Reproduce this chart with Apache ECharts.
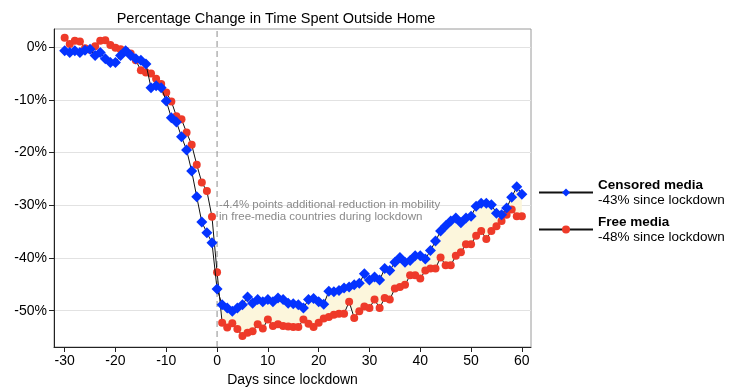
<!DOCTYPE html>
<html><head><meta charset="utf-8">
<script src="https://cdn.jsdelivr.net/npm/echarts@6/dist/echarts.min.js"></script>
<style>html,body{margin:0;padding:0;background:#fff}#c{width:733px;height:392px}</style>
</head><body><div id="c"></div>
<script>
const days = [-30,-29,-28,-27,-26,-25,-24,-23,-22,-21,-20,-19,-18,-17,-16,-15,-14,-13,-12,-11,-10,-9,-8,-7,-6,-5,-4,-3,-2,-1,
  0,1,2,3,4,5,6,7,8,9,10,11,12,13,14,15,16,17,18,19,20,21,22,23,24,25,26,27,28,29,30,
  31,32,33,34,35,36,37,38,39,40,41,42,43,44,45,46,47,48,49,50,51,52,53,54,55,56,57,58,59,60];
const censored = [-0.7,-1.0,-0.7,-1.0,-0.6,-0.4,-1.6,-1.0,-2.2,-2.9,-2.9,-1.6,-0.7,-1.6,-2.2,-2.5,-3.2,
  -7.7,-7.3,-7.7,-10.2,-13.4,-14.2,-17.0,-19.5,-23.5,-28.4,-33.2,-35.2,-37.1,
  -45.9,
  -48.9,-49.5,-50.1,-49.5,-48.9,-47.4,-48.6,-47.9,-48.3,-47.9,-48.3,-47.6,-47.9,-48.6,
  -48.7,-48.9,-49.5,-47.9,-47.7,-48.3,-48.8,-46.3,-46.4,-46.2,-45.7,-45.5,-45.1,-44.8,-43.0,-44.2,
  -43.6,-44.2,-42.0,-42.4,-40.8,-39.9,-40.8,-40.5,-39.6,-39.6,-40.2,-38.6,-36.8,-34.9,-33.9,-33.0,-32.4,-33.3,-32.4,-32.1,
  -30.2,-29.6,-29.6,-29.9,-31.5,-31.8,-30.5,-28.5,-26.5,-27.9];
const free = [1.8,0.6,1.2,1.1,-0.2,-0.5,0.2,1.2,1.3,0.4,-0.1,-0.4,-0.7,-1.2,-2.5,-4.4,-4.8,
  -5.0,-6.0,-7.0,-8.6,-10.3,-13.1,-13.7,-16.2,-18.5,-22.3,-25.7,-27.3,-32.2,
  -42.7,
  -52.3,-53.2,-52.4,-53.5,-54.8,-54.2,-53.9,-52.6,-53.4,-51.7,-52.9,-52.6,-52.9,-53.0,
  -53.1,-53.1,-51.7,-52.5,-53.1,-52.3,-51.5,-51.2,-50.8,-50.6,-50.6,-48.3,-51.4,-50.1,-49.2,-49.5,
  -47.9,-49.5,-47.6,-47.9,-45.8,-45.5,-45.1,-43.3,-43.3,-43.9,-42.4,-42.0,-42.0,-39.9,-41.4,-41.4,-39.6,-38.9,-37.4,-37.4,
  -35.8,-34.9,-36.4,-34.9,-34.0,-33.0,-31.8,-30.8,-32.1,-32.1];
const seriesNames = ['Censored media', 'Free media'];
const seriesNotes = ['-43% since lockdown', '-48% since lockdown'];
const xTicks = [-30,-20,-10,0,10,20,30,40,50,60];
const yTicks = [0,-10,-20,-30,-40,-50];
const lockdownDay = 0;
const annotationLines = ['-4.4% points additional reduction in mobility', 'in free-media countries during lockdown'];
const annotationAnchor = [0, -28.8];
const titleText = 'Percentage Change in Time Spent Outside Home';
const xName = 'Days since lockdown';

const FONT = '"Liberation Sans", Arial, Helvetica, sans-serif';
const X_MIN = -32.1, X_MAX = 61.8, Y_MIN = -56.9, Y_MAX = 3.45;
const chart = echarts.init(document.getElementById('c'), null, {renderer: 'canvas'});
const pts = arr => days.map((d, i) => [d, arr[i]]);
const bandIdx = days.map((d, i) => i).filter(i => days[i] >= lockdownDay);

const option = {
  animation: false,
  title: {text: titleText, left: 271, top: 6, textAlign: 'center',
    textStyle: {fontFamily: FONT, fontSize: 14.5, fontWeight: 'normal', color: '#000'}},
  grid: {left: 54, right: 202, top: 29, bottom: 39, show: true, borderColor: '#9a9a9a', borderWidth: 1},
  xAxis: {type: 'value', min: X_MIN, max: X_MAX, splitNumber: 9,
    name: xName, nameLocation: 'middle', nameGap: 26,
    nameTextStyle: {fontFamily: FONT, fontSize: 14, color: '#000'},
    axisLine: {show: true, onZero: false, lineStyle: {color: '#222', width: 1}},
    axisTick: {show: true, length: 5, lineStyle: {color: '#222'}, customValues: xTicks},
    axisLabel: {fontFamily: FONT, fontSize: 14, color: '#000', margin: 7, customValues: xTicks,
      formatter: v => (xTicks.indexOf(v) >= 0 ? String(v) : '')},
    splitLine: {show: false}},
  yAxis: {type: 'value', min: Y_MIN, max: Y_MAX, splitNumber: 6,
    axisLine: {show: true, onZero: false, lineStyle: {color: '#222', width: 1}},
    axisTick: {show: true, length: 5, lineStyle: {color: '#222'}, customValues: yTicks},
    axisLabel: {fontFamily: FONT, fontSize: 14, color: '#000', margin: 7, customValues: yTicks,
      formatter: v => (yTicks.indexOf(v) >= 0 ? v + '%' : '')},
    splitLine: {show: true, lineStyle: {color: '#e2e2e2', width: 1}}},
  legend: {orient: 'vertical', left: 533, top: 173, itemWidth: 54, itemHeight: 10, itemGap: 8,
    data: seriesNames,
    formatter: name => '{b|' + name + '}\n{n|' + seriesNotes[seriesNames.indexOf(name)] + '}',
    textStyle: {rich: {
      b: {fontFamily: FONT, fontSize: 13.5, fontWeight: 'bold', color: '#000', lineHeight: 15},
      n: {fontFamily: FONT, fontSize: 13.5, color: '#000', lineHeight: 15}}}},
  series: [
    {type: 'custom', name: 'band', silent: true, z: 1, data: [[lockdownDay, 0]],
      renderItem: (params, api) => {
        const top = bandIdx.map(i => api.coord([days[i], censored[i]]));
        const bot = bandIdx.map(i => api.coord([days[i], free[i]])).reverse();
        return {type: 'polygon', shape: {points: top.concat(bot)}, style: {fill: '#fcf6dc'}, silent: true};
      }},
    {type: 'line', name: 'lockdown', silent: true, z: 2, symbol: 'none',
      data: [[lockdownDay, Y_MIN], [lockdownDay, Y_MAX]],
      lineStyle: {color: '#8c8c8c', type: [6, 4], width: 1}},
    {type: 'line', name: seriesNames[1], data: pts(free), z: 3,
      symbol: 'circle', symbolSize: 8, showAllSymbol: true,
      lineStyle: {color: '#111', width: 1}, itemStyle: {color: '#ee3a29'}},
    {type: 'line', name: seriesNames[0], data: pts(censored), z: 4,
      symbol: 'diamond', symbolSize: 11, showAllSymbol: true,
      lineStyle: {color: '#111', width: 1}, itemStyle: {color: '#0433ff'}}
  ]
};
chart.setOption(option);
const ap = chart.convertToPixel({gridIndex: 0}, annotationAnchor);
chart.setOption({graphic: [{type: 'text', left: ap[0] + 2, top: ap[1], silent: true, z: 10,
  style: {text: annotationLines.join('\n'), fontFamily: FONT, fontSize: 11.5, lineHeight: 12, fill: '#8a8a8a'}}]});
</script></body></html>
